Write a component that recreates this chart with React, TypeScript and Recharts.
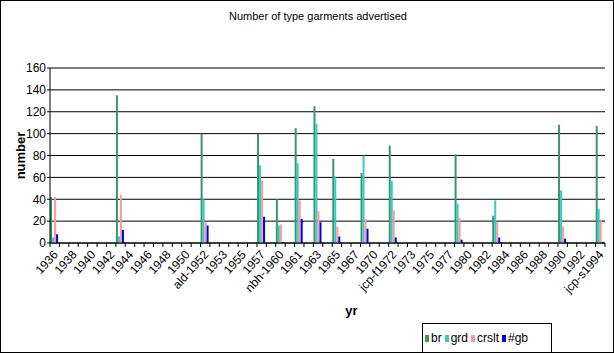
import { Bar, BarChart, CartesianGrid, Label, Legend, ReferenceLine, XAxis, YAxis } from "recharts";

// category labels (issue years), only every other one is printed
const years = [
  "1936", "1937", "1938", "1939", "1940", "1941", "1942", "1943", "1944", "1945",
  "1946", "1947", "1948", "1949", "1950", "1951", "ald-1952", "1952", "1953", "1954",
  "1955", "1956", "1957", "1958", "nbh-1960", "1960", "1961", "1962", "1963", "1964",
  "1965", "1966", "1967", "1968", "1970", "1971", "jcp-f1972", "1972", "1973", "1974",
  "1975", "1976", "1977", "1978", "1980", "1981", "1982", "1983", "1984", "1985",
  "1986", "1987", "1988", "1989", "1990", "1991", "1992", "1993", "jcp-s1994",
];

const br = [
  42, 0, 0, 0, 0, 0, 0, 135, 0, 0,
  0, 0, 0, 0, 0, 0, 100, 0, 0, 0,
  0, 0, 100, 0, 40, 0, 105, 0, 125, 0,
  77, 0, 0, 64, 0, 0, 89, 0, 0, 0,
  0, 0, 0, 81, 0, 0, 0, 25, 0, 0,
  0, 0, 0, 0, 108, 0, 0, 0, 107,
];
const grd = [
  5, 0, 0, 0, 0, 0, 0, 6, 0, 0,
  0, 0, 0, 0, 0, 0, 40, 0, 0, 0,
  0, 0, 71, 0, 16, 0, 73, 0, 109, 0,
  61, 0, 0, 80, 0, 0, 57, 0, 0, 0,
  0, 0, 0, 36, 0, 0, 0, 39, 0, 0,
  0, 0, 0, 0, 48, 0, 0, 0, 31,
];
const crslt = [
  42, 0, 0, 0, 0, 0, 0, 44, 0, 0,
  0, 0, 0, 0, 0, 0, 19, 0, 0, 0,
  0, 0, 57, 0, 17, 0, 39, 0, 29, 0,
  15, 0, 0, 22, 0, 0, 30, 0, 0, 0,
  0, 0, 0, 23, 0, 0, 0, 19, 0, 0,
  0, 0, 0, 0, 15, 0, 0, 0, 20,
];
const gb = [
  8, 0, 0, 0, 0, 0, 0, 12, 0, 0,
  0, 0, 0, 0, 0, 0, 16, 0, 0, 0,
  0, 0, 24, 0, 1, 0, 22, 0, 19, 0,
  6, 0, 0, 13, 0, 0, 5, 0, 0, 0,
  0, 0, 0, 3, 0, 0, 0, 5, 0, 0,
  0, 0, 0, 0, 4, 0, 0, 0, 1,
];

const seriesNames = ["br", "grd", "crslt", "#gb"];
const yTicks = [0, 20, 40, 60, 80, 100, 120, 140, 160];

const rows = years.map((yr, i) => ({ yr, br: br[i], grd: grd[i], crslt: crslt[i], gb: gb[i] }));

const font = "Arial, 'Liberation Sans', sans-serif";

// excel style: tick marks between categories, labels on every second one
function YearTick(props: any) {
  const { x, y, payload } = props;
  const half = payload.offset ?? 4.7;
  const i = payload.index;
  return (
    <g>
      <line x1={x - half} x2={x - half} y1={y} y2={y + 4} stroke="#000" />
      {i === years.length - 1 && <line x1={x + half} x2={x + half} y1={y} y2={y + 4} stroke="#000" />}
      {i % 2 === 0 && (
        <text
          x={x + 4}
          y={y + 12}
          transform={`rotate(-48 ${x + 4} ${y + 12})`}
          textAnchor="end"
          fontSize={12}
          fontFamily={font}
          fill="#000"
        >
          {payload.value}
        </text>
      )}
    </g>
  );
}

function KeyBox({ payload }: any) {
  const items = [...(payload || [])].sort(
    (a: any, b: any) => seriesNames.indexOf(a.value) - seriesNames.indexOf(b.value)
  );
  return (
    <div style={{ display: "flex", alignItems: "center", height: "100%", paddingLeft: 2, fontSize: 12, fontFamily: font }}>
      {items.map((item: any) => (
        <span key={item.value} style={{ display: "inline-flex", alignItems: "center", marginRight: 3 }}>
          <span style={{ display: "inline-block", width: 4, height: 7, background: item.color, marginRight: 2 }} />
          {item.value}
        </span>
      ))}
    </div>
  );
}

export default function App() {
  return (
    <div style={{ position: "absolute", left: 0, top: 0, width: 614, height: 353, background: "#fff", fontFamily: font }}>
      <div style={{ position: "absolute", top: 10, left: 0, width: 614, paddingLeft: 22, boxSizing: "border-box", textAlign: "center", fontSize: 11 }}>
        Number of type garments advertised
      </div>
      <BarChart
        width={614}
        height={353}
        data={rows}
        margin={{ top: 68, right: 9, left: 0, bottom: 0 }}
        barCategoryGap="1%"
        barGap={0}
      >
        <CartesianGrid vertical={false} stroke="#000" />
        <XAxis
          dataKey="yr"
          height={110}
          interval={0}
          tickSize={0}
          tickMargin={0}
          tick={<YearTick />}
          axisLine={{ stroke: "#000" }}
        >
          <Label value="yr" position="insideBottom" offset={38} dx={24} fontSize={13} fontWeight="bold" fill="#000" />
        </XAxis>
        <YAxis
          width={50}
          domain={[0, 160]}
          ticks={yTicks}
          interval={0}
          tickSize={3}
          tickMargin={1}
          tick={{ fontSize: 12, fill: "#000", fontFamily: font }}
          axisLine={{ stroke: "#000" }}
          tickLine={{ stroke: "#000" }}
        >
          <Label value="number" angle={-90} position="center" dx={-5} fontSize={13} fontWeight="bold" fill="#000" />
        </YAxis>
        <YAxis yAxisId="r" orientation="right" width={0} tick={false} tickLine={false} axisLine={{ stroke: "#808080" }} />
        <ReferenceLine y={160} stroke="#808080" />
        <Legend
          layout="horizontal"
          verticalAlign="middle"
          align="center"
          content={<KeyBox />}
          wrapperStyle={{ left: 422, top: 323, width: 130, height: 30, border: "1px solid #000", boxSizing: "border-box", background: "#fff" }}
        />
        <Bar dataKey="br" name="br" fill="#339966" isAnimationActive={false} />
        <Bar dataKey="grd" name="grd" fill="#33cccc" isAnimationActive={false} />
        <Bar dataKey="crslt" name="crslt" fill="#ff9999" isAnimationActive={false} />
        <Bar dataKey="gb" name="#gb" fill="#0000ee" isAnimationActive={false} />
      </BarChart>
      <div style={{ position: "absolute", left: 0, top: 0, width: 614, height: 353, border: "1px solid #000", boxSizing: "border-box", pointerEvents: "none" }} />
    </div>
  );
}
